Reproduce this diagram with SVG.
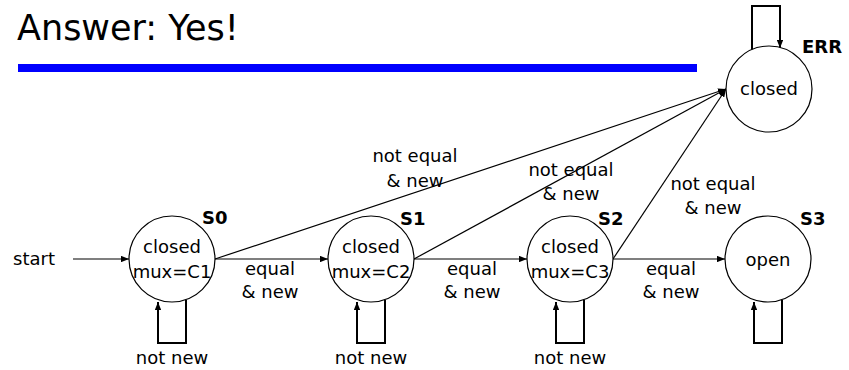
<svg xmlns="http://www.w3.org/2000/svg" width="849" height="370" viewBox="0 0 849 370">
  <style>
    .title { font-family: "DejaVu Sans", Verdana, sans-serif; font-size: 35px; fill: #000; }
    .state { fill: #fff; stroke: #000; stroke-width: 1.2; }
    .txt { font-family: "DejaVu Sans", Verdana, sans-serif; font-size: 18px; fill: #000; text-anchor: middle; }
    .name { font-family: "DejaVu Sans", Verdana, sans-serif; font-size: 18px; font-weight: bold; fill: #000; }
    .edge { fill: none; stroke: #000; stroke-width: 1.2; marker-end: url(#arrow); }
    .loop { fill: none; stroke: #000; stroke-width: 2; marker-end: url(#arrow); }
  </style>
  <defs>
    <marker id="arrow" viewBox="0 0 10 8" refX="10" refY="4" markerWidth="8" markerHeight="6.4" markerUnits="userSpaceOnUse" orient="auto">
      <path d="M0,0 L10,4 L0,8 Z" fill="#000"/>
    </marker>
  </defs>

  <rect width="849" height="370" fill="#fff"/>

  <!-- heading -->
  <text class="title" x="17" y="40">Answer: Yes!</text>
  <rect x="18" y="64" width="679" height="8" fill="#0000ff"/>

  <!-- transitions -->
  <g id="connectors">
    <line class="edge" x1="73" y1="259" x2="129" y2="259"/>
    <line class="edge" x1="215" y1="259" x2="328" y2="259"/>
    <line class="edge" x1="414" y1="259" x2="527" y2="259"/>
    <line class="edge" x1="613" y1="259" x2="725" y2="259"/>
    <line class="edge" x1="215" y1="259" x2="726" y2="89"/>
    <line class="edge" x1="414" y1="259" x2="726" y2="89"/>
    <line class="edge" x1="613" y1="259" x2="726" y2="89"/>
    <!-- self loops -->
    <polyline class="loop" points="186,300 186,343 158,343 158,302"/>
    <polyline class="loop" points="385,300 385,343 357,343 357,302"/>
    <polyline class="loop" points="584,300 584,343 556,343 556,302"/>
    <polyline class="loop" points="782,300 782,343 754,343 754,302"/>
    <polyline class="loop" points="752,50 752,6 780,6 780,48"/>

    <text class="txt" x="34" y="265">start</text>
    <text class="txt" x="270" y="275">equal</text>
    <text class="txt" x="270" y="298">&amp; new</text>
    <text class="txt" x="472" y="275">equal</text>
    <text class="txt" x="472" y="298">&amp; new</text>
    <text class="txt" x="671" y="275">equal</text>
    <text class="txt" x="671" y="298">&amp; new</text>
    <text class="txt" x="415" y="162">not equal</text>
    <text class="txt" x="415" y="187">&amp; new</text>
    <text class="txt" x="571" y="176">not equal</text>
    <text class="txt" x="571" y="200">&amp; new</text>
    <text class="txt" x="713" y="190">not equal</text>
    <text class="txt" x="713" y="214">&amp; new</text>
    <text class="txt" x="172" y="364">not new</text>
    <text class="txt" x="371" y="364">not new</text>
    <text class="txt" x="570" y="364">not new</text>
  </g>

  <g id="S0">
    <circle class="state" cx="172" cy="259" r="43"/>
    <text class="txt" x="172" y="253">closed</text>
    <text class="txt" x="172" y="278">mux=C1</text>
    <text class="name" x="202" y="224">S0</text>
  </g>
  <g id="S1">
    <circle class="state" cx="371" cy="259" r="43"/>
    <text class="txt" x="371" y="253">closed</text>
    <text class="txt" x="371" y="278">mux=C2</text>
    <text class="name" x="400" y="225">S1</text>
  </g>
  <g id="S2">
    <circle class="state" cx="570" cy="259" r="43"/>
    <text class="txt" x="570" y="253">closed</text>
    <text class="txt" x="570" y="278">mux=C3</text>
    <text class="name" x="598" y="225">S2</text>
  </g>
  <g id="S3">
    <circle class="state" cx="768" cy="259" r="43"/>
    <text class="txt" x="768" y="266">open</text>
    <text class="name" x="800" y="225">S3</text>
  </g>
  <g id="ERR">
    <circle class="state" cx="769" cy="89" r="43"/>
    <text class="txt" x="769" y="95">closed</text>
    <text class="name" x="802" y="53">ERR</text>
  </g>
</svg>
